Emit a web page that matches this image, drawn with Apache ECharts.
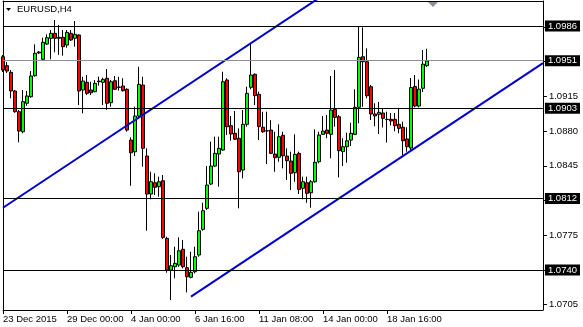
<!DOCTYPE html>
<html><head><meta charset="utf-8">
<script src="https://cdn.jsdelivr.net/npm/echarts@6/dist/echarts.min.js"></script>
<style>html,body{margin:0;padding:0;background:#fff}#c{width:583px;height:327px}</style>
</head><body><div id="c"></div>
<script>
// H4 candles, EURUSD
const opens = [1.09550,1.09460,1.09393,1.09205,1.08996,1.08794,1.09081,1.09147,1.09359,1.09588,1.09524,1.09678,1.09736,1.09786,1.09746,1.09746,1.09668,1.09786,1.09736,1.09769,1.09215,1.09292,1.09215,1.09198,1.09298,1.09292,1.09333,1.09087,1.09308,1.09245,1.09255,1.09222,1.08710,1.08592,1.08952,1.09265,1.08549,1.08166,1.08280,1.08240,1.08300,1.07719,1.07400,1.07433,1.07450,1.07609,1.07423,1.07326,1.07383,1.07551,1.07810,1.08022,1.08267,1.08448,1.08569,1.08610,1.09315,1.08855,1.08778,1.08728,1.08408,1.08869,1.09242,1.09373,1.09171,1.08839,1.08804,1.08811,1.08569,1.08536,1.08758,1.08549,1.08499,1.08381,1.08576,1.08224,1.08280,1.08179,1.08290,1.08492,1.08768,1.08811,1.08768,1.09020,1.08945,1.08593,1.08643,1.08710,1.08768,1.09040,1.09550,1.09500,1.09248,1.08973,1.08970,1.08983,1.08919,1.08919,1.08919,1.08869,1.08839,1.08721,1.08630,1.09250,1.09053,1.09232,1.09460];
const closes = [1.09416,1.09406,1.09205,1.08996,1.08801,1.09097,1.09154,1.09356,1.09585,1.09598,1.09696,1.09742,1.09786,1.09736,1.09736,1.09651,1.09796,1.09719,1.09776,1.09205,1.09305,1.09181,1.09187,1.09282,1.09305,1.09322,1.09081,1.09298,1.09222,1.09242,1.09208,1.08811,1.08582,1.08952,1.09272,1.08627,1.08166,1.08290,1.08234,1.08290,1.07729,1.07400,1.07443,1.07467,1.07594,1.07433,1.07332,1.07377,1.07534,1.07796,1.07998,1.08257,1.08448,1.08576,1.08627,1.09298,1.08845,1.08771,1.08718,1.08391,1.08869,1.09181,1.09366,1.09157,1.08845,1.08794,1.08802,1.08576,1.08532,1.08744,1.08552,1.08502,1.08375,1.08566,1.08213,1.08290,1.08173,1.08290,1.08486,1.08761,1.08801,1.08778,1.09013,1.08939,1.08603,1.08643,1.08703,1.08778,1.09040,1.09544,1.09500,1.09157,1.08973,1.08953,1.08990,1.08929,1.08917,1.08902,1.08855,1.08828,1.08703,1.08643,1.09240,1.09053,1.09223,1.09475,1.09507];
const lows = [1.09396,1.09386,1.09131,1.08986,1.08687,1.08778,1.09056,1.09137,1.09349,1.09578,1.09517,1.09668,1.09524,1.09595,1.09568,1.09561,1.09641,1.09709,1.09651,1.09063,1.08980,1.09164,1.09164,1.09191,1.09258,1.09063,1.09013,1.09046,1.09215,1.09208,1.09198,1.08794,1.08250,1.08549,1.08929,1.08441,1.07796,1.08113,1.08156,1.08139,1.07712,1.07373,1.07097,1.07316,1.07433,1.07417,1.07175,1.07316,1.07366,1.07534,1.07796,1.08005,1.08257,1.08441,1.08240,1.08603,1.08761,1.08703,1.08710,1.08022,1.08324,1.08845,1.09222,1.09063,1.08710,1.08784,1.08469,1.08569,1.08391,1.08492,1.08425,1.08307,1.08206,1.08290,1.08166,1.08113,1.08078,1.08028,1.08280,1.08476,1.08761,1.08728,1.08526,1.08845,1.08334,1.08448,1.08482,1.08650,1.08761,1.08879,1.09046,1.09131,1.08912,1.08849,1.08771,1.08837,1.08685,1.08857,1.08798,1.08778,1.08549,1.08593,1.08603,1.09040,1.09040,1.09194,1.09446];
const highs = [1.09568,1.09497,1.09416,1.09215,1.09013,1.09215,1.09205,1.09406,1.09675,1.09608,1.09742,1.09776,1.09820,1.09920,1.09870,1.09820,1.09820,1.09820,1.09910,1.09776,1.09349,1.09366,1.09298,1.09315,1.09349,1.09339,1.09426,1.09315,1.09356,1.09349,1.09333,1.09232,1.08738,1.09046,1.09449,1.09349,1.08627,1.08391,1.08375,1.08341,1.08358,1.07736,1.07551,1.07635,1.07729,1.07702,1.07534,1.07584,1.07635,1.07988,1.08078,1.08448,1.08693,1.08744,1.08744,1.09399,1.09333,1.08952,1.09003,1.08828,1.09013,1.09248,1.09685,1.09383,1.09198,1.08996,1.08996,1.08912,1.08794,1.08869,1.08794,1.08627,1.08593,1.08768,1.08593,1.08341,1.08341,1.08307,1.08818,1.08794,1.08952,1.08963,1.09356,1.09416,1.08963,1.08728,1.08784,1.08885,1.09222,1.09860,1.09847,1.09635,1.09265,1.09081,1.09094,1.09023,1.08996,1.08983,1.08983,1.09035,1.08895,1.08839,1.09336,1.09366,1.09320,1.09618,1.09630];

const xTickLabels = ['23 Dec 2015','29 Dec 00:00','4 Jan 00:00','6 Jan 16:00','11 Jan 08:00','14 Jan 00:00','18 Jan 16:00'];
const barsPerXTick = 16;
const totalBars = 136;
const yTickValues = [1.0705,1.0740,1.0775,1.0810,1.0845,1.0880,1.0915,1.0950,1.0985];
// horizontal price levels (ascending); 1.0951 is the bid line
const levelValues = [1.0740,1.0812,1.0903,1.0951,1.0986];
const levelColors = ['#000','#000','#000','#8c9096','#000'];
const upperChannel = [[0,1.08028],[80,1.10169]];
const lowerChannel = [[47,1.07131],[135,1.09486]];
const yMin = 1.06997, yMax = 1.10112;

const FONT = 'Tahoma, "Liberation Sans", Arial, sans-serif';
const categories = Array.from({length: totalBars}, (_, i) => String(i));
const candles = opens.map((o, i) => [o, closes[i], lows[i], highs[i]]);
const showXTick = (idx) => idx % barsPerXTick === 0 && idx / barsPerXTick < xTickLabels.length;

const chart = echarts.init(document.getElementById('c'), null, {renderer: 'canvas'});
chart.setOption({
  animation: false,
  backgroundColor: '#fff',
  title: {
    text: 'EURUSD,H4', left: 12, top: -1,
    textStyle: {fontFamily: FONT, fontSize: 9.5, fontWeight: 'normal', color: '#000'}
  },
  graphic: [
    {type: 'polygon', shape: {points: [[6, 8], [11, 8], [8.5, 11]]}, style: {fill: '#000'}},
    {type: 'polygon', shape: {points: [[428, 2], [438, 2], [433, 7]]}, style: {fill: '#8c9096'}}
  ],
  grid: {left: 2, top: 1, right: 40, bottom: 17, show: false},
  xAxis: [{
    type: 'category', data: categories, boundaryGap: false, position: 'bottom',
    axisLine: {show: true, lineStyle: {color: '#000', width: 1}},
    axisTick: {show: true, interval: showXTick, length: 4, inside: false, lineStyle: {color: '#000'}},
    axisLabel: {
      interval: showXTick, align: 'left', margin: 4,
      fontFamily: FONT, fontSize: 9.5, color: '#000',
      formatter: (v, idx) => xTickLabels[idx / barsPerXTick] || ''
    },
    splitLine: {show: false}
  }, {
    type: 'category', data: categories, boundaryGap: false, position: 'top',
    axisLine: {show: true, lineStyle: {color: '#000', width: 1}},
    axisTick: {show: false}, axisLabel: {show: false}, splitLine: {show: false}
  }],
  yAxis: [{
    type: 'value', position: 'right', min: yMin, max: yMax, scale: true,
    axisLine: {show: true, lineStyle: {color: '#000', width: 1}},
    axisTick: {show: true, customValues: yTickValues, length: 4, inside: false, lineStyle: {color: '#000'}},
    axisLabel: {
      customValues: yTickValues, margin: 6, fontFamily: FONT, fontSize: 9.5, color: '#000',
      formatter: v => v.toFixed(4)
    },
    splitLine: {show: false}
  }, {
    type: 'value', position: 'right', min: yMin, max: yMax, scale: true, z: 5,
    axisLine: {show: false},
    axisTick: {show: false, customValues: levelValues},
    splitLine: {show: true, showMinLine: true, showMaxLine: true, lineStyle: {color: levelColors, width: 1, type: 'solid'}},
    axisLabel: {
      customValues: levelValues, margin: 2,
      fontFamily: FONT, fontSize: 9.5, color: '#fff', backgroundColor: '#000',
      padding: [1, 3, 0, 3], formatter: v => v.toFixed(4)
    }
  }, {
    type: 'value', position: 'left', min: yMin, max: yMax, scale: true,
    axisLine: {show: true, lineStyle: {color: '#000', width: 1}},
    axisTick: {show: false}, axisLabel: {show: false}, splitLine: {show: false}
  }],
  series: [{
    type: 'candlestick', data: candles, xAxisIndex: 0, yAxisIndex: 0, z: 2,
    barWidth: 3,
    itemStyle: {color: '#00ff00', color0: '#ff0000', borderColor: '#000', borderColor0: '#000', borderWidth: 1}
  }, {
    type: 'line', data: upperChannel, xAxisIndex: 0, yAxisIndex: 0, z: 4,
    showSymbol: false, symbol: 'none', silent: true, clip: true,
    lineStyle: {color: '#0000cd', width: 2}
  }, {
    type: 'line', data: lowerChannel, xAxisIndex: 0, yAxisIndex: 0, z: 4,
    showSymbol: false, symbol: 'none', silent: true, clip: true,
    lineStyle: {color: '#0000cd', width: 2}
  }]
});
</script></body></html>
